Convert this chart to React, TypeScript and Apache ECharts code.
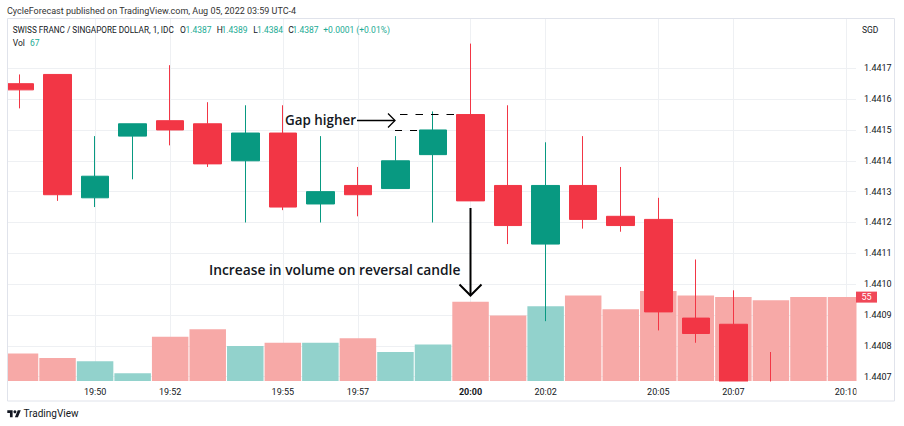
import React, { useEffect, useRef } from "react";
import * as echarts from "echarts";

const times = [
  "19:48", "19:49", "19:50", "19:51", "19:52", "19:53", "19:54", "19:55", "19:56", "19:57", "19:58", "19:59",
  "20:00", "20:01", "20:02", "20:03", "20:04", "20:05", "20:06", "20:07", "20:08", "20:09", "20:10",
];
const opens = [
  1.44165, 1.44168, 1.44128, 1.44148, 1.44153, 1.44152, 1.4414, 1.44149, 1.44126, 1.44132, 1.44131, 1.44142,
  1.44155, 1.44132, 1.44113, 1.44132, 1.44122, 1.44121, 1.44089, 1.44087, 1.44066, 1.44058, 1.44057,
];
const closes = [
  1.44163, 1.44129, 1.44135, 1.44152, 1.4415, 1.44139, 1.44149, 1.44125, 1.4413, 1.44129, 1.4414, 1.4415,
  1.44127, 1.44119, 1.44132, 1.44121, 1.44119, 1.44091, 1.44084, 1.44062, 1.44058, 1.44056, 1.44054,
];
const lows = [
  1.44157, 1.44127, 1.44125, 1.44134, 1.44145, 1.44138, 1.4412, 1.44124, 1.4412, 1.44122, 1.44131, 1.4412,
  1.44127, 1.44113, 1.44088, 1.44118, 1.44117, 1.44085, 1.44081, 1.44058, 1.44055, 1.44052, 1.4405,
];
const highs = [
  1.44168, 1.44168, 1.44148, 1.44152, 1.44171, 1.44159, 1.44158, 1.44158, 1.44148, 1.44138, 1.44148, 1.44156,
  1.44178, 1.44158, 1.44146, 1.44148, 1.44138, 1.44128, 1.44108, 1.44098, 1.44078, 1.44064, 1.44062,
];
const volumes = [18, 15, 13, 5, 29, 34, 23, 25, 25, 28, 19, 24, 52, 43, 49, 56, 47, 59, 56, 55, 53, 55, 55];

const priceTicks = [1.4407, 1.4408, 1.4409, 1.441, 1.4411, 1.4412, 1.4413, 1.4414, 1.4415, 1.4416, 1.4417];
const timeTickIdx = [2, 4, 7, 9, 12, 14, 17, 19, 22];
const boldTimeIdx = [12];

const UP = "#089981";
const DOWN = "#F23645";
const VOL_UP = "#92D2CC";
const VOL_DOWN = "#F7A9A7";
const TEXT = "#131722";
const GRID = "#eef0f3";
const FONT = "Roboto, 'Open Sans', sans-serif";
const ANN_FONT = "'Open Sans', sans-serif";

const X_MIN = -0.3462;
const X_MAX = 22.266;
const P_MIN = 1.440686;
const P_MAX = 1.441863;

echarts.graphic.registerShape(
  "tvlogo",
  echarts.graphic.extendPath("M14 22H7V11H0V4h14v18zM28 22h-8l7.5-18h8L28 22z", {})
);

function txt(x: number, y: number, text: string, opts: any = {}) {
  return {
    type: "text",
    x,
    y,
    z: 100,
    style: {
      text,
      fill: opts.fill || TEXT,
      fontSize: opts.fontSize || 9,
      fontWeight: opts.fontWeight || "normal",
      fontFamily: opts.fontFamily || FONT,
      align: opts.align || "left",
      verticalAlign: "middle",
    },
  };
}

function cover(x: number, y: number, w: number, h: number) {
  return { type: "rect", z: 5, silent: true, shape: { x, y, width: w, height: h }, style: { fill: "#ffffff" } };
}

export default function App() {
  const ref = useRef<HTMLDivElement>(null);
  useEffect(() => {
    const chart = echarts.init(ref.current!, null, { renderer: "svg" });
    const G = "#22AB94";
    const HS = 8.5;
    const graphics: any[] = [
      // covers for marks that overflow the plot area
      cover(0, 0, 7, 426),
      cover(856.5, 18, 47.5, 384),
      cover(7, 381.5, 897, 44.5),
      // outer pane border
      {
        type: "rect",
        z: 90,
        shape: { x: 7.5, y: 18.5, width: 887, height: 382.5 },
        style: { fill: "none", stroke: "#e0e3eb", lineWidth: 1 },
      },
      // cover clipped time label on price scale
      {
        type: "rect",
        z: 95,
        shape: { x: 856.5, y: 383, width: 37.5, height: 17 },
        style: { fill: "#ffffff" },
      },
      txt(7, 11, "CycleForecast published on TradingView.com, Aug 05, 2022 03:59 UTC-4", { fill: "#333", fontSize: 9 }),
      txt(12.7, 29.5, "SWISS FRANC / SINGAPORE DOLLAR, 1, IDC", { fontSize: 8.2 }),
      txt(180, 29.5, "O", { fontSize: HS }),
      txt(185.5, 29.5, "1.4387", { fontSize: HS, fill: G }),
      txt(216.7, 29.5, "H", { fontSize: HS }),
      txt(221.5, 29.5, "1.4389", { fontSize: HS, fill: G }),
      txt(253.3, 29.5, "L", { fontSize: HS }),
      txt(257, 29.5, "1.4384", { fontSize: HS, fill: G }),
      txt(288.3, 29.5, "C", { fontSize: HS }),
      txt(292.5, 29.5, "1.4387", { fontSize: HS, fill: G }),
      txt(323.3, 29.5, "+0.0001 (+0.01%)", { fontSize: HS, fill: G }),
      txt(12.7, 42.5, "Vol", { fontSize: HS }),
      txt(30, 42.5, "67", { fontSize: HS, fill: G }),
      txt(862, 29.5, "SGD", { fontSize: 8.5 }),
      // Gap higher annotation
      txt(285, 120, "Gap higher", { fontSize: 13.4, fontWeight: 600, fontFamily: ANN_FONT }),
      {
        type: "line",
        z: 100,
        shape: { x1: 357, y1: 120.5, x2: 394.5, y2: 120.5 },
        style: { stroke: "#000", lineWidth: 1.3 },
      },
      {
        type: "polyline",
        z: 100,
        shape: { points: [[388, 113.5], [395, 120.5], [388, 127.5]] },
        style: { stroke: "#000", lineWidth: 1.3, fill: "none" },
      },
      {
        type: "line",
        z: 100,
        shape: { x1: 400, y1: 114.5, x2: 456, y2: 114.5 },
        style: { stroke: "#000", lineWidth: 1, lineDash: [7.5, 8] },
      },
      {
        type: "line",
        z: 100,
        shape: { x1: 395, y1: 130.5, x2: 418, y2: 130.5 },
        style: { stroke: "#000", lineWidth: 1, lineDash: [7, 8] },
      },
      // Volume annotation
      txt(209, 269.5, "Increase in volume on reversal candle", {
        fontSize: 13.8,
        fontWeight: 600,
        fontFamily: ANN_FONT,
      }),
      {
        type: "line",
        z: 100,
        shape: { x1: 470.5, y1: 208, x2: 470.5, y2: 295 },
        style: { stroke: "#000", lineWidth: 2 },
      },
      {
        type: "polyline",
        z: 100,
        shape: { points: [[459.5, 284.5], [470.5, 295.5], [481.5, 284.5]] },
        style: { stroke: "#000", lineWidth: 2, fill: "none" },
      },
      // TradingView logo
      {
        type: "tvlogo",
        z: 100,
        x: 7.3,
        y: 408.8,
        scaleX: 0.38,
        scaleY: 0.38,
        style: { fill: TEXT },
      },
      { type: "circle", z: 100, shape: { cx: 7.3 + 20 * 0.38, cy: 408.8 + 8 * 0.38, r: 1.5 }, style: { fill: TEXT } },
      txt(23.5, 413.5, "TradingView", { fontSize: 10 }),
    ];

    const xBase = { type: "value", position: "bottom", min: X_MIN, max: X_MAX, axisLine: { show: false } };
    const yPriceBase = { type: "value", position: "right", min: P_MIN, max: P_MAX, axisLine: { show: false } };

    const option: any = {
      animation: false,
      backgroundColor: "#ffffff",
      grid: { left: 7, right: 48, top: 18, bottom: 45, containLabel: false },
      xAxis: [
        {
          ...xBase,
          z: 0,
          axisTick: { show: false, customValues: timeTickIdx },
          axisLabel: { show: false },
          splitLine: { show: true, lineStyle: { color: GRID, width: 1 } },
        },
        {
          ...xBase,
          z: 10,
          offset: 0,
          axisTick: { show: false, customValues: timeTickIdx },
          splitLine: { show: false },
          axisLabel: {
            customValues: timeTickIdx,
            margin: 6,
            color: TEXT,
            fontSize: 9,
            fontFamily: FONT,
            formatter: (v: number) => {
              const i = Math.round(v);
              const t = times[i];
              return boldTimeIdx.includes(i) ? `{b|${t}}` : t;
            },
            rich: { b: { fontWeight: "bold", fontSize: 9, color: TEXT, fontFamily: FONT } },
          },
        },
      ],
      yAxis: [
        {
          ...yPriceBase,
          z: 0,
          axisTick: { show: false, customValues: priceTicks },
          axisLabel: { show: false },
          splitLine: { show: true, lineStyle: { color: GRID, width: 1 } },
        },
        {
          type: "value",
          position: "left",
          min: 0,
          max: 238,
          show: false,
          splitLine: { show: false },
        },
        {
          ...yPriceBase,
          z: 10,
          offset: 0,
          axisTick: { show: false, customValues: priceTicks },
          splitLine: { show: false },
          axisLabel: {
            customValues: priceTicks,
            margin: 8,
            color: TEXT,
            fontSize: 9,
            fontFamily: FONT,
            formatter: (v: number) => v.toFixed(4),
          },
        },
      ],
      series: [
        {
          type: "bar",
          xAxisIndex: 0,
          yAxisIndex: 1,
          barWidth: 36.5,
          z: 1,
          silent: true,
          data: volumes.map((v, i) => ({
            value: [i, v],
            itemStyle: { color: closes[i] >= opens[i] ? VOL_UP : VOL_DOWN },
          })),
        },
        {
          type: "candlestick",
          xAxisIndex: 0,
          yAxisIndex: 0,
          barWidth: 28,
          z: 2,
          clip: true,
          silent: true,
          data: times.map((_, i) => [i, opens[i], closes[i], lows[i], highs[i]]),
          itemStyle: {
            color: UP,
            color0: DOWN,
            borderColor: UP,
            borderColor0: DOWN,
            borderWidth: 1,
          },
        },
      ],
      graphic: graphics,
    };
    chart.setOption(option);

    const lastVol = volumes[volumes.length - 1];
    const yPix = chart.convertToPixel({ yAxisIndex: 1 } as any, lastVol) as number;
    chart.setOption({
      graphic: [
        ...graphics,
        {
          type: "rect",
          z: 110,
          shape: { x: 856, y: yPix - 5.5, width: 21, height: 11 },
          style: { fill: "#F04858" },
        },
        {
          type: "text",
          z: 111,
          x: 866.5,
          y: yPix,
          style: {
            text: String(lastVol),
            fill: "#ffffff",
            fontSize: 9,
            fontFamily: FONT,
            align: "center",
            verticalAlign: "middle",
          },
        },
      ],
    });
    return () => chart.dispose();
  }, []);
  return <div ref={ref} style={{ position: "fixed", left: 0, top: 0, width: 904, height: 426 }} />;
}
